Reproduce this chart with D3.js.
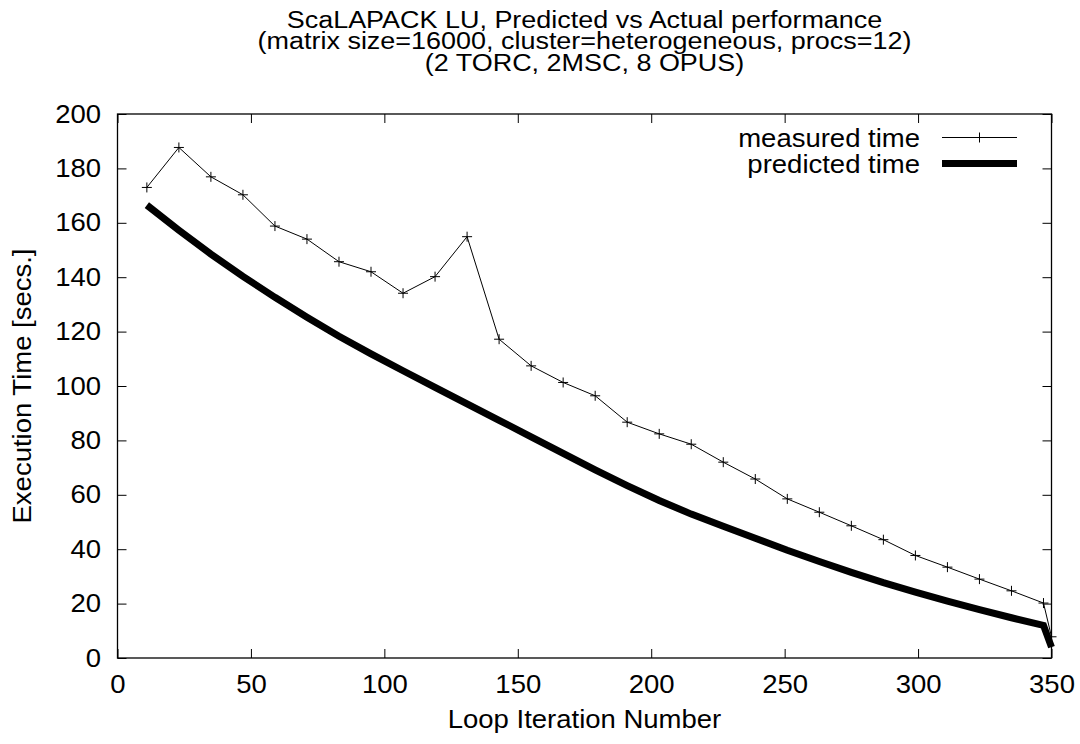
<!DOCTYPE html>
<meta charset="utf-8">
<title>ScaLAPACK LU predicted vs actual</title>
<style>
    body { margin: 0; background: #fff; }
    text { font-family: "Liberation Sans", Arial, sans-serif; fill: #000; }
</style>

<body>
    <script src="https://d3js.org/d3.v7.min.js" charset="utf-8"></script>
    <script>
        // ----------------------- data

        var iterations = [11, 23, 35, 47, 59, 71, 83, 95, 107, 119, 131, 143, 155, 167, 179,
            191, 203, 215, 227, 239, 251, 263, 275, 287, 299, 311, 323, 335, 347, 350];
        var measuredTime = [173, 187.7, 176.9, 170.3, 158.8, 154, 145.7, 142, 134.1, 140.2, 154.9,
            117.2, 107.4, 101.3, 96.4, 86.7, 82.4, 78.6, 72, 65.8, 58.5, 53.6, 48.6, 43.5, 37.7,
            33.4, 29, 24.7, 20.2, 7.8];
        var predictedTime = [166.5, 157.3, 148.5, 140.3, 132.6, 125.3, 118.3, 111.8, 105.6, 99.5,
            93.4, 87.4, 81.3, 75.2, 69.2, 63.4, 57.9, 52.9, 48.4, 44, 39.6, 35.5, 31.5, 27.7,
            24.2, 20.9, 17.8, 14.8, 12, 4];
        var xTicks = [0, 50, 100, 150, 200, 250, 300, 350];
        var yTicks = [0, 20, 40, 60, 80, 100, 120, 140, 160, 180, 200];
        var titleLines = ["ScaLAPACK LU, Predicted vs Actual performance",
            "(matrix size=16000, cluster=heterogeneous, procs=12)",
            "(2 TORC, 2MSC, 8 OPUS)"];
        var seriesNames = ["measured time", "predicted time"];

        // -----------------------

        var width = 1080,
            height = 744,
            fontSize = 25,
            stretch = 1.1;

        var plotLeft = 117.5, plotRight = 1051.5, plotTop = 114, plotBottom = 658;

        var svg = d3.select("body").append("svg")
            .attr("width", width)
            .attr("height", height);

        var x = d3.scaleLinear().domain([0, 350]).range([plotLeft, plotRight]);
        var y = d3.scaleLinear().domain([0, 200]).range([plotBottom, plotTop]);

        // text is a bit wider than plain Arial in the original
        function widen(sel, k) {
            k = k || stretch;
            sel.each(function () {
                var t = d3.select(this);
                var tx = +t.attr("x") || 0, ty = +t.attr("y") || 0;
                var rot = t.attr("data-rot") ? " rotate(" + t.attr("data-rot") + ")" : "";
                t.attr("x", 0).attr("y", 0)
                    .attr("transform", "translate(" + tx + "," + ty + ")" + rot + " scale(" + k + ",1)");
            });
        }

        function styleAxis(g) {
            g.attr("font-family", null).attr("font-size", null);
            g.select(".domain").remove();
            g.selectAll(".tick line").attr("stroke", "#000").attr("stroke-width", 1);
            g.selectAll(".tick text").style("font-size", fontSize + "px").attr("fill", "#000").call(widen);
        }

        svg.append("g")
            .attr("transform", "translate(" + plotLeft + ",0)")
            .call(d3.axisLeft(y).tickValues(yTicks).tickSizeInner(-9).tickSizeOuter(0).tickPadding(16.5))
            .call(styleAxis);

        svg.append("g")
            .attr("transform", "translate(0," + plotBottom + ")")
            .call(d3.axisBottom(x).tickValues(xTicks).tickSizeInner(-9).tickSizeOuter(0).tickPadding(17))
            .call(styleAxis);

        svg.append("g")
            .attr("transform", "translate(" + plotRight + ",0)")
            .call(d3.axisRight(y).tickValues(yTicks).tickSizeInner(-9).tickSizeOuter(0).tickFormat(""))
            .call(styleAxis);

        svg.append("g")
            .attr("transform", "translate(0," + plotTop + ")")
            .call(d3.axisTop(x).tickValues(xTicks).tickSizeInner(-9).tickSizeOuter(0).tickFormat(""))
            .call(styleAxis);

        svg.append("rect")
            .attr("x", plotLeft).attr("y", plotTop)
            .attr("width", plotRight - plotLeft).attr("height", plotBottom - plotTop)
            .attr("fill", "none").attr("stroke", "#000").attr("stroke-width", 1.3);

        // series
        var measured = iterations.map(function (d, i) { return [d, measuredTime[i]]; });
        var predicted = iterations.map(function (d, i) { return [d, predictedTime[i]]; });

        var line = d3.line().x(function (d) { return x(d[0]); }).y(function (d) { return y(d[1]); });

        svg.append("path")
            .datum(predicted)
            .attr("d", line)
            .attr("fill", "none").attr("stroke", "#000").attr("stroke-width", 7);

        svg.append("path")
            .datum(measured)
            .attr("d", line)
            .attr("fill", "none").attr("stroke", "#000").attr("stroke-width", 1);

        function cross(g, cx, cy) {
            g.append("path")
                .attr("d", "M" + (cx - 5) + "," + cy + "H" + (cx + 5) + "M" + cx + "," + (cy - 5) + "V" + (cy + 5))
                .attr("stroke", "#000").attr("stroke-width", 1).attr("fill", "none");
        }
        var marks = svg.append("g");
        measured.forEach(function (d) { cross(marks, x(d[0]), y(d[1])); });

        // legend
        var legend = svg.append("g");
        var legY = [137.5, 163.5];
        legend.selectAll("text").data(seriesNames).enter().append("text")
            .attr("x", 920).attr("y", function (d, i) { return legY[i] + 9; })
            .attr("text-anchor", "end")
            .style("font-size", fontSize + "px")
            .text(function (d) { return d; })
            .call(widen);
        legend.append("line").attr("x1", 942).attr("x2", 1017).attr("y1", legY[0]).attr("y2", legY[0])
            .attr("stroke", "#000").attr("stroke-width", 1);
        cross(legend, 979.5, legY[0]);
        legend.append("line").attr("x1", 942).attr("x2", 1017).attr("y1", legY[1]).attr("y2", legY[1])
            .attr("stroke", "#000").attr("stroke-width", 7);

        // titles
        svg.selectAll(".title").data(titleLines).enter().append("text")
            .attr("class", "title")
            .attr("x", (plotLeft + plotRight) / 2)
            .attr("y", function (d, i) { return 27.5 + i * 21.5; })
            .attr("text-anchor", "middle")
            .style("font-size", "24.5px")
            .text(function (d) { return d; })
            .call(widen);

        svg.append("text")
            .attr("x", (plotLeft + plotRight) / 2).attr("y", 728)
            .attr("text-anchor", "middle")
            .style("font-size", fontSize + "px")
            .text("Loop Iteration Number")
            .call(widen);

        svg.append("text")
            .attr("x", 31).attr("y", (plotTop + plotBottom) / 2)
            .attr("data-rot", -90)
            .attr("text-anchor", "middle")
            .style("font-size", fontSize + "px")
            .text("Execution Time [secs.]")
            .call(widen);
    </script>
</body>
